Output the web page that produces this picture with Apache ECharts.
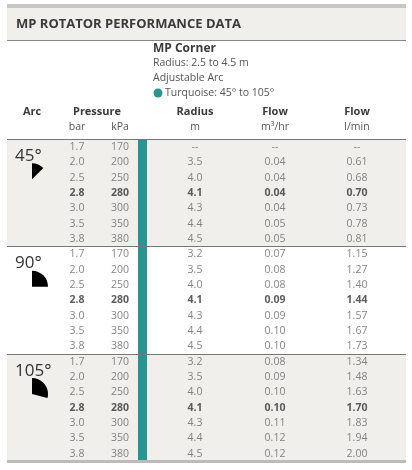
<!DOCTYPE html>
<html><head><meta charset="utf-8">
<script src="https://cdn.jsdelivr.net/npm/echarts@6/dist/echarts.min.js"></script>
<style>html,body{margin:0;padding:0;background:#fff}#c{width:412px;height:470px}</style>
</head><body><div id="c"></div>
<script>
const arcs = ['45°', '90°', '105°'];
const bar = ['1.7','2.0','2.5','2.8','3.0','3.5','3.8'];
const kpa = ['170','200','250','280','300','350','380'];
const radius = [
  ['--','3.5','4.0','4.1','4.3','4.4','4.5'],
  ['3.2','3.5','4.0','4.1','4.3','4.4','4.5'],
  ['3.2','3.5','4.0','4.1','4.3','4.4','4.5']];
const flowM3 = [
  ['--','0.04','0.04','0.04','0.04','0.05','0.05'],
  ['0.07','0.08','0.08','0.09','0.09','0.10','0.10'],
  ['0.08','0.09','0.10','0.10','0.11','0.12','0.12']];
const flowL = [
  ['--','0.61','0.68','0.70','0.73','0.78','0.81'],
  ['1.15','1.27','1.40','1.44','1.57','1.67','1.73'],
  ['1.34','1.48','1.63','1.70','1.83','1.94','2.00']];
const boldRow = 3;
const colX = {bar:77, kpa:120, radius:195, m3:275, l:357};
const arcAngles = [45, 90, 105];

const F = '"Open Sans", sans-serif';
const pts = [];
arcs.forEach((a, s) => {
  for (let r = 0; r < 7; r++) {
    const y = s * 7 + r;
    const cols = [[colX.bar, bar[r]], [colX.kpa, kpa[r]], [colX.radius, radius[s][r]], [colX.m3, flowM3[s][r]], [colX.l, flowL[s][r]]];
    cols.forEach(([x, t]) => pts.push({value: [x, y], t, b: r === boldRow}));
  }
});

const chart = echarts.init(document.getElementById('c'), null, {renderer: 'canvas'});
const G = {top: 139.3, h: 322};
const rowPx = G.h / 21;
const graphics = [
  {type: 'rect', shape: {x: 7, y: 4, width: 399, height: 4}, style: {fill: '#c9c7c4'}},
  {type: 'rect', shape: {x: 7, y: 8, width: 399, height: 32}, style: {fill: '#f1efeb'}},
  {type: 'line', shape: {x1: 7, y1: 40.5, x2: 406, y2: 40.5}, style: {stroke: '#888', lineWidth: 1}},
  {type: 'text', x: 16, y: 24, style: {text: 'MP ROTATOR PERFORMANCE DATA', font: 'bold 13px ' + F, fill: '#3a3a3a', verticalAlign: 'middle'}},
  {type: 'text', x: 153, y: 49, style: {text: 'MP Corner', font: 'bold 12px ' + F, fill: '#3a3a3a', verticalAlign: 'middle'}},
  {type: 'text', x: 153, y: 63, style: {text: 'Radius: 2.5 to 4.5 m', font: '10.5px ' + F, fill: '#555', verticalAlign: 'middle'}},
  {type: 'text', x: 153, y: 78, style: {text: 'Adjustable Arc', font: '10.5px ' + F, fill: '#555', verticalAlign: 'middle'}},
  {type: 'circle', shape: {cx: 158, cy: 93, r: 4.5}, style: {fill: '#2a9490'}},
  {type: 'text', x: 165, y: 93, style: {text: 'Turquoise: 45° to 105°', font: '10.5px ' + F, fill: '#555', verticalAlign: 'middle'}}
];
[['Arc', 32, 112, true], ['Pressure', 97, 112, true], ['Radius', 195, 112, true], ['Flow', 275, 112, true], ['Flow', 357, 112, true],
 ['bar', 77, 127, false], ['kPa', 120, 127, false], ['m', 195, 127, false], ['m³/hr', 275, 127, false], ['l/min', 357, 127, false]]
.forEach(([t, x, y, b]) => graphics.push({type: 'text', x, y, style: {text: t, font: (b ? 'bold 11px ' : '10.5px ') + F, fill: b ? '#3a3a3a' : '#555', align: 'center', verticalAlign: 'middle'}}));
arcs.forEach((a, s) => {
  const y0 = G.top + s * 7 * rowPx;
  graphics.push({type: 'text', z: 100, x: 15, y: y0 + 17, style: {text: a, font: '17px ' + F, fill: '#333', verticalAlign: 'middle'}});
  const cy = y0 + 40, r = 16;
  graphics.push({type: 'sector', z: 100, shape: {cx: 32, cy, r, r0: 0, startAngle: -Math.PI / 2, endAngle: -Math.PI / 2 + arcAngles[s] * Math.PI / 180, clockwise: true}, style: {fill: '#000'}});
});

chart.setOption({
  animation: false,
  grid: {left: 0, right: 0, top: G.top, height: G.h},
  xAxis: {type: 'value', min: 0, max: 412, show: false},
  yAxis: {type: 'value', min: -0.5, max: 20.5, inverse: true, show: false},
  graphic: graphics,
  series: [{
    type: 'scatter', symbolSize: 0, z: 5,
    data: pts.map(p => ({value: p.value, label: {formatter: p.t, fontWeight: p.b ? 'bold' : 'normal', color: p.b ? '#333' : '#666'}})),
    label: {show: true, position: 'inside', fontFamily: F, fontSize: 10.5},
    markArea: {silent: true, data: [
      [{coord: [7, -0.5], itemStyle: {color: '#f1efeb', opacity: 1}}, {coord: [406, 6.5]}],
      [{coord: [7, 13.5], itemStyle: {color: '#f1efeb', opacity: 1}}, {coord: [406, 20.5]}],
      [{coord: [138, -0.9], itemStyle: {color: '#2a9490', opacity: 1}}, {coord: [147, 20.5]}]
    ]},
    markLine: {silent: true, symbol: 'none', label: {show: false}, data: [
      [{coord: [7, -0.5], lineStyle: {color: '#777', width: 1, type: 'solid'}}, {coord: [406, -0.5]}],
      [{coord: [7, 6.5], lineStyle: {color: '#777', width: 1, type: 'solid'}}, {coord: [406, 6.5]}],
      [{coord: [7, 13.5], lineStyle: {color: '#777', width: 1, type: 'solid'}}, {coord: [406, 13.5]}],
      [{coord: [7, 20.5], lineStyle: {color: '#bbb', width: 3, type: 'solid'}}, {coord: [406, 20.5]}]
    ]}
  }]
});
</script></body></html>
